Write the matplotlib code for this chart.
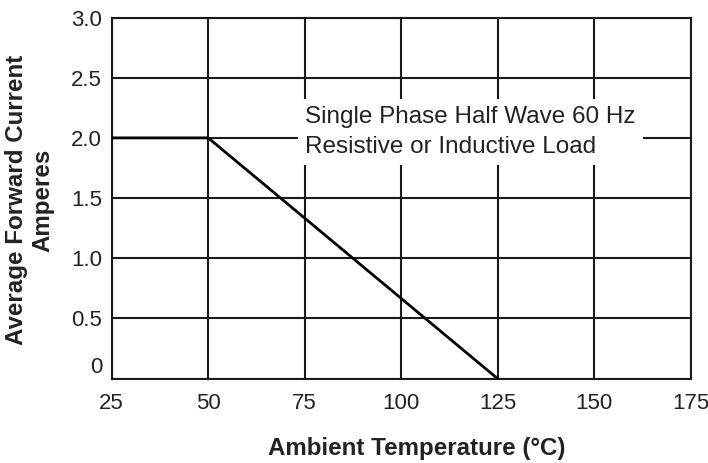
import matplotlib.pyplot as plt
import matplotlib.transforms as mtransforms

# derating curve
temps = [25, 50, 125]
current = [2.0, 2.0, 0.0]

x_ticks = [25, 50, 75, 100, 125, 150, 175]
y_ticks = [0, 0.5, 1.0, 1.5, 2.0, 2.5, 3.0]
y_tick_labels = ['0', '0.5', '1.0', '1.5', '2.0', '2.5', '3.0']

note = 'Single Phase Half Wave 60 Hz\nResistive or Inductive Load'

plt.rcParams['font.family'] = ['Liberation Sans', 'DejaVu Sans']

fig = plt.figure(figsize=(7.08, 4.63), dpi=100)
ax = fig.add_axes([0.1578, 0.1821, 0.8177, 0.7801])

ax.plot(temps, current, color='black', lw=2.0, zorder=4)

ax.set_xlim(25, 175)
ax.set_ylim(0, 3.0)
ax.set_xticks(x_ticks)
ax.set_yticks(y_ticks)
ax.set_xticklabels([str(t) for t in x_ticks])
ax.set_yticklabels(y_tick_labels)
ax.tick_params(axis='both', length=0, labelsize=16, colors='#222222')
ax.tick_params(axis='x', pad=10)
ax.tick_params(axis='y', pad=7)
ax.grid(True, color='#1a1a1a', lw=1.5)
for s in ax.spines.values():
    s.set_linewidth(1.5)
    s.set_color('#1a1a1a')

# the "0" label sits a little above the axis line
lbl0 = ax.get_yticklabels()[0]
lbl0.set_transform(lbl0.get_transform() + mtransforms.ScaledTranslation(0, 10 / 72, fig.dpi_scale_trans))

ax.text(75.1, 2.05, note, fontsize=17.5, color='#222222', va='center', ha='left',
        linespacing=1.45, zorder=5,
        bbox=dict(facecolor='white', edgecolor='none', pad=5))

fig.text(416.5 / 708, 0.0173, 'Ambient Temperature (°C)', fontsize=17.4, fontweight='bold',
         ha='center', va='baseline', color='#222222')
fig.text(30 / 708, 0.568, 'Average Forward Current\nAmperes', rotation=90, fontsize=17.4,
         fontweight='bold', ha='center', va='center', multialignment='center', color='#222222')

fig.savefig('out.png', dpi=100)
